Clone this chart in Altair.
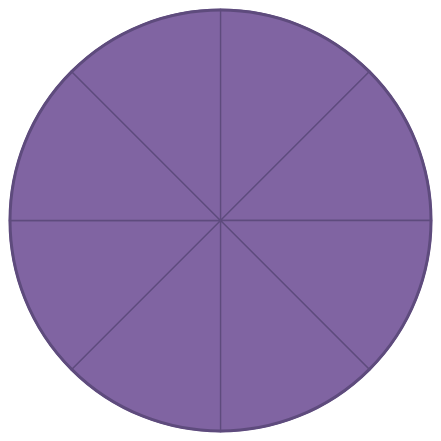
import altair as alt
import pandas as pd

slices = ["1", "2", "3", "4", "5", "6", "7", "8"]
values = [1, 1, 1, 1, 1, 1, 1, 1]

df = pd.DataFrame({"slice": slices, "value": values, "order": list(range(8))})

base = alt.Chart(df)
pie = base.mark_arc(radius=211, fill="#8064A2", stroke="#5E4B7D", strokeWidth=1.3).encode(
    theta=alt.Theta("value:Q", stack=True),
    order=alt.Order("order:Q"),
)
ring_df = pd.DataFrame({"value": [sum(values)]})
ring = alt.Chart(ring_df).mark_arc(radius=210.5, fillOpacity=0, stroke="#5E4B7D", strokeWidth=3).encode(
    theta=alt.Theta("value:Q")
)

chart = (pie + ring).properties(
    width=425, height=425, padding=0, autosize=alt.AutoSizeParams(type="none")
).configure_view(stroke=None)

chart.save("out.html", embed_options={"renderer": "svg", "actions": False})
